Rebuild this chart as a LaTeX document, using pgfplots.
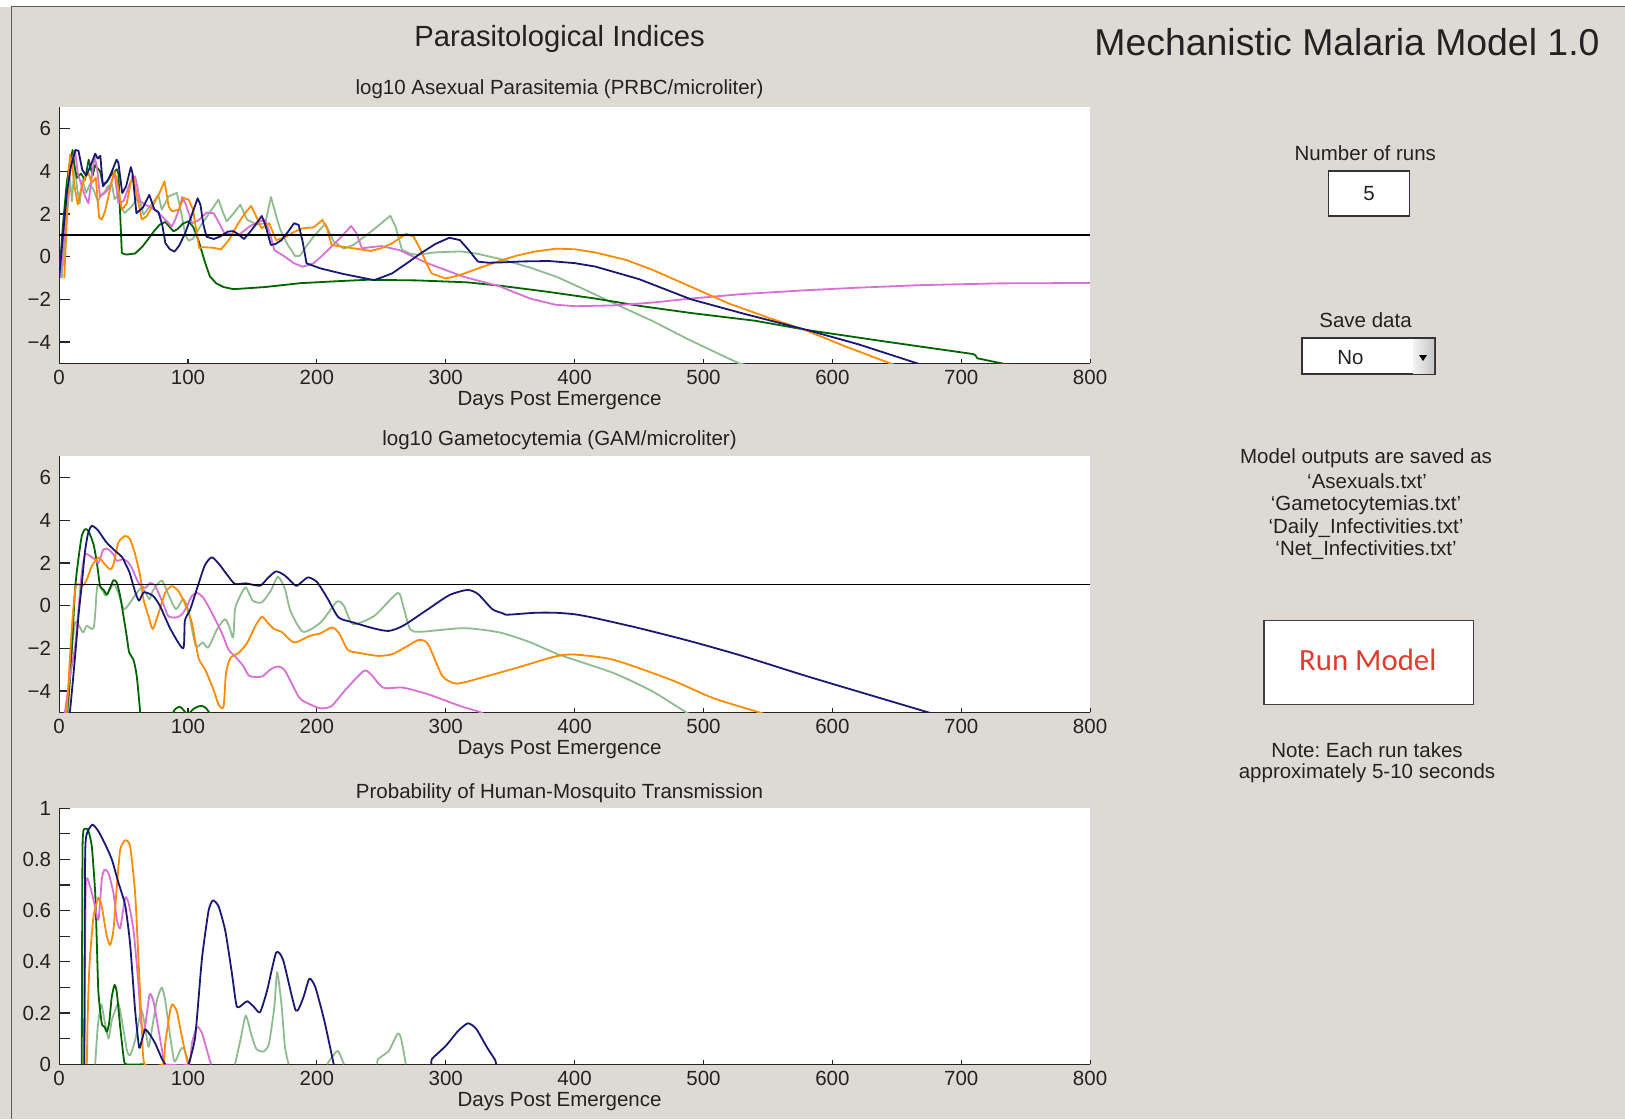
\documentclass[border=0pt]{standalone}
\usepackage{pgfplots}
\pgfplotsset{compat=1.18}
\usepackage{fontspec}
\setmainfont{Liberation Sans}
\newfontfamily\calibri{Carlito}
\definecolor{bg}{RGB}{221,218,213}
\definecolor{navyc}{RGB}{25,25,115}
\definecolor{orangec}{RGB}{255,140,0}
\definecolor{dgreen}{RGB}{0,100,0}
\definecolor{lgreen}{RGB}{143,188,143}
\definecolor{violetc}{RGB}{218,112,214}
\definecolor{txt}{RGB}{34,34,34}
\definecolor{runred}{RGB}{224,60,45}
\newcommand\tenfont{\fontsize{10.25}{12.3}\selectfont}
\frenchspacing
\pgfplotsset{
 mm/.style={
  scale only axis, width=515.5pt, height=128pt,
  xmin=0, xmax=800,
  axis x line*=bottom, axis y line*=left,
  axis line style={black!85, line width=0.6pt},
  axis background/.style={fill=white},
  tick align=inside,
  major tick length=5.25pt,
  minor tick length=5.25pt,
  tick style={black!85, line width=0.6pt},
  xtick={0,100,...,800},
  xticklabels={0,100,200,300,400,500,600,700,800},
  xtick style={/pgfplots/major tick length=2pt},
  tick label style={font=\tenfont, text=txt},
  xticklabel style={anchor=base, yshift=-10.65pt},
  yticklabel style={anchor=east, inner sep=0pt, xshift=-3.8pt},
  label style={font=\tenfont, text=txt},
  xlabel={Days Post Emergence},
  xlabel style={at={(axis description cs:0.4854,0)}, anchor=base, yshift=-21.2pt},
  title style={at={(axis description cs:0.4854,1)}, anchor=base, font=\tenfont, text=txt},
  unbounded coords=jump,
  every axis plot/.append style={line width=0.9pt, line join=round},
  /pgf/number format/assume math mode=true,
 }
}
\begin{document}
\begin{tikzpicture}
\fill[bg] (0,0) rectangle (812.5pt,-559.5pt);
\fill[white] (0,0) rectangle (812.5pt,-3.25pt);
\draw[black!65, line width=0.6pt] (5.75pt,-559.5pt) -- (5.75pt,-3.25pt) -- (812.5pt,-3.25pt);

% ---------------- Axis 1 ----------------
\begin{axis}[mm, at={(29.55pt,-181.7pt)}, anchor=south west,
  ymin=-5, ymax=7, ytick={-4,-2,0,2,4,6}, yticklabels={−4,−2,0,2,4,6},
  title={log10 Asexual Parasitemia (PRBC/microliter)}, title style={yshift=0.4pt}]
\addplot[lgreen] coordinates {(2,-1.0) (5,1.0) (7,2.5) (8.5,3.6) (10,2.6) (12,4.3) (14,3.2) (16,2.5) (18,3.6) (21,3.0) (24,3.4) (27,3.1) (30,2.6) (33,2.9) (35.7,3.07) (38,3.3) (41,3.4) (43,2.7) (46,2.9) (48,2.3) (51,2.05) (56.4,2.36) (61.6,2.83) (65.5,1.97) (69.4,2.28) (74.6,2.68) (77,2.9) (79.7,2.2) (85,2.83) (91.4,2.99) (95.3,1.9) (98,1.0) (100.5,0.75) (104,0.85) (109.5,1.42) (116,2.0) (123.7,2.68) (127,2.1) (130,1.66) (135,2.0) (140.6,2.44) (145.8,1.74) (153.5,1.5) (160,1.58) (164.4,2.8) (168,2.0) (171.6,1.27) (177,0.6) (183.3,0.02) (187,0.05) (192,0.5) (197.5,0.95) (206.6,1.55) (213,0.72) (220.8,0.38) (228.6,0.56) (236,0.9) (244,1.27) (257,1.92) (261,1.42) (266,0.33) (272,0.15) (278,0.09) (291,0.2) (311.6,0.25) (324.5,0.14) (342.5,-0.11) (365,-0.5) (386,-0.94) (410,-1.6) (431,-2.2) (460,-3.0) (487.5,-3.85) (510,-4.5) (527.7,-5.0) (535,-5.1)};
\addplot[dgreen] coordinates {(0,-1.0) (3,1.5) (6,3.5) (8,4.3) (10.5,5.0) (12,4.2) (14,3.7) (17,3.9) (20,3.6) (23,4.55) (26,3.8) (28,4.3) (31.8,4.0) (34,3.4) (37,3.5) (40,3.8) (44.8,4.1) (46,3.9) (48.7,0.17) (52,0.1) (59,0.15) (65,0.5) (70,0.9) (74.6,1.27) (78,1.5) (82.3,1.63) (85,1.45) (88.8,1.19) (92,1.3) (96,1.55) (100.5,1.66) (104,1.4) (108,0.8) (113.4,-0.3) (117,-0.92) (122,-1.25) (127.6,-1.42) (135.3,-1.52) (160,-1.42) (187,-1.24) (215,-1.15) (239,-1.08) (278,-1.11) (316.6,-1.2) (342.4,-1.36) (380,-1.65) (416,-1.96) (450,-2.3) (490.5,-2.64) (540,-3.0) (579.8,-3.43) (639.3,-3.96) (709,-4.56) (711,-4.62) (712.5,-4.76) (731.5,-5.0) (740,-5.1)};
\addplot[violetc] coordinates {(1,-1.0) (4,1.0) (7,3.0) (9,4.3) (12.4,5.0) (14.5,3.9) (17.6,3.3) (20.2,2.83) (22.8,2.5) (25.4,3.77) (27.4,4.7) (29.3,4.24) (31.8,2.83) (35.7,3.0) (39.6,3.3) (43,3.93) (46,2.52) (50,2.6) (55.1,3.46) (59,3.77) (62.9,2.6) (66.8,2.44) (74.6,2.2) (82.3,1.74) (87.5,1.42) (90.1,1.74) (94,2.36) (95.5,2.8) (98,2.5) (103.3,1.57) (108,1.7) (114.4,2.07) (120,2.04) (124,1.6) (128.3,1.1) (139,1.0) (147.6,1.41) (155,1.65) (160,1.72) (164,1.0) (167,0.31) (175.3,0.0) (182,-0.3) (189,-0.47) (197.5,-0.31) (205,0.1) (214,0.63) (220,1.0) (226.6,1.44) (230.7,1.1) (235,0.39) (242,0.45) (250,0.5) (264,0.31) (286,-0.31) (313.9,-0.94) (341.5,-1.38) (365.5,-1.96) (385,-2.25) (401,-2.32) (431,-2.28) (460,-2.15) (490.5,-1.96) (530,-1.75) (579.8,-1.57) (620,-1.45) (669,-1.33) (728.6,-1.25) (800,-1.23)};
\addplot[orangec] coordinates {(4,-1.0) (5.5,1.0) (7,3.5) (8.5,4.8) (10,4.3) (12,3.3) (14.5,2.44) (17,3.15) (20,3.7) (22.8,3.93) (25.4,3.46) (28.5,3.7) (31,1.86) (33,1.74) (35.5,2.1) (38.3,2.83) (41,3.6) (43,4.0) (44.8,3.6) (48.7,2.2) (52.5,2.5) (55,3.3) (57,3.85) (59,3.3) (64.2,1.74) (68,1.9) (74.6,2.6) (78,3.0) (81.8,3.54) (85,2.36) (87.5,2.13) (92.7,2.2) (96.6,2.75) (100.5,2.68) (104,2.2) (106.5,1.2) (108.7,0.4) (112,0.45) (120,0.42) (125.5,0.34) (132,0.8) (139,1.57) (145,2.1) (149,2.38) (153,1.88) (157,1.33) (160,1.45) (163,1.57) (168.4,0.78) (175,0.9) (182,1.15) (189,1.33) (197.5,1.38) (204.4,1.72) (208,1.3) (211.4,0.55) (219.7,0.47) (230,0.38) (241.8,0.27) (250,0.4) (258.4,0.63) (265,0.9) (269.5,1.08) (275,0.95) (280.6,0.31) (285,-0.3) (289,-0.78) (300,-1.02) (311,-0.86) (325,-0.55) (341.5,-0.2) (355,0.05) (369,0.24) (386,0.38) (400,0.35) (416,0.2) (440,-0.15) (460.7,-0.62) (490,-1.4) (520,-2.2) (550,-2.85) (579.8,-3.46) (610,-4.2) (645,-5.0) (650,-5.1)};
\addplot[navyc] coordinates {(0,-1.0) (3,1.0) (6,3.0) (9,4.2) (12.7,5.0) (15,4.97) (18,4.07) (21,3.8) (24,4.2) (28,4.83) (30,4.6) (32,4.73) (34,3.3) (38,3.6) (41,4.0) (44.6,4.55) (46,4.4) (49,2.98) (52,3.3) (55.7,4.2) (57,3.9) (60,2.04) (65,2.3) (70,2.9) (74,2.2) (77,2.1) (80,1.5) (82.5,0.63) (86,0.35) (89.5,0.24) (93,0.5) (97.8,1.1) (102,1.8) (107.5,2.74) (109.7,2.43) (112,1.5) (114.4,0.94) (120,0.83) (125,0.95) (131,1.18) (135,1.2) (138,1.1) (143.5,0.83) (150,1.3) (157.3,1.91) (160,1.5) (164.3,0.55) (168,0.6) (172.6,0.78) (178,1.2) (182.3,1.57) (185.9,1.49) (189,0.7) (192,-0.31) (203,-0.55) (220,-0.8) (244.6,-1.1) (258.4,-0.78) (270,-0.3) (280.6,0.16) (292,0.6) (302.8,0.89) (311,0.78) (318,0.3) (325,-0.23) (333,-0.28) (341.5,-0.27) (360,-0.22) (380,-0.2) (400,-0.3) (416,-0.46) (450,-1.05) (490.5,-2.0) (530,-2.65) (580,-3.43) (620,-4.1) (666,-5.0) (670,-5.1)};
\addplot[black, line width=0.9pt] coordinates {(0,1) (800,1)};
\end{axis}

% ---------------- Axis 2 ----------------
\begin{axis}[mm, at={(29.55pt,-356.2pt)}, anchor=south west,
  ymin=-5, ymax=7, ytick={-4,-2,0,2,4,6}, yticklabels={−4,−2,0,2,4,6},
  title={log10 Gametocytemia (GAM/microliter)}, title style={yshift=-0.75pt},
  every axis plot/.append style={smooth, tension=0.4}]
\addplot[lgreen] coordinates {(6,-5.1) (7,-4.9) (9,-2.5) (12.4,-0.81) (15,-0.89) (18.6,-1.25) (21.4,-0.94) (26.9,-1.02) (29.7,0.94) (33.8,0.7) (36.6,0.47) (42.2,1.02) (46,0.6) (50.5,-0.16) (58.8,0.47) (64.4,0.86) (69.9,0.31) (72.7,0.7) (79.6,1.18) (85.2,0.47) (90.7,-0.16) (96.3,0.31) (100.4,-0.24) (106,-1.88) (111.5,-1.72) (115.7,-1.96) (122.6,-1.1) (128.7,-0.63) (132.3,-1.02) (135.1,-1.49) (136.5,-0.16) (140,0.4) (144.8,0.86) (150.3,0.24) (157.3,0.16) (164.2,0.7) (169.8,1.36) (175.3,0.78) (179.5,-0.24) (189.2,-1.22) (203,-0.78) (215.5,0.19) (221,0.0) (228,-0.86) (244.7,-0.47) (262.7,0.6) (266.9,0.0) (272.4,-1.1) (280.7,-1.22) (314,-1.05) (341.7,-1.25) (365,-1.7) (388.3,-2.3) (430,-3.15) (460,-4.0) (486.7,-5.0) (490,-5.1)};
\addplot[dgreen] coordinates {(6,-5.1) (9,-3.0) (12.4,0.76) (15,2.2) (17.6,3.27) (20.2,3.59) (22.8,3.5) (26.7,2.88) (29.3,2.02) (31.8,0.92) (34.4,0.76) (37,0.53) (39.6,0.84) (42.2,1.2) (44.8,1.08) (47.4,0.45) (50,-0.5) (52.5,-1.44) (54.4,-2.2) (57.7,-2.53) (60.3,-3.32) (62.9,-4.97) (63.5,-5.2) (63.6,nan) (88,-5.05) (90,-4.85) (93.5,-4.73) (96,-4.85) (98.5,-5.05) (99,nan) (101,-5.05) (104,-4.85) (108,-4.72) (111,-4.7) (114,-4.8) (117,-5.05)};
\addplot[violetc] coordinates {(4,-5.1) (4.7,-4.9) (8,-3.5) (12.4,-1.9) (15,-0.2) (17.6,1.55) (20.2,2.4) (24,2.33) (28,2.17) (30.5,2.0) (34.4,2.64) (38.3,2.64) (42.2,2.4) (44.8,2.1) (48.7,2.17) (52.6,2.1) (56.4,1.78) (61.6,1.07) (66.8,0.84) (70.7,1.07) (74.6,0.92) (81,0.06) (84.9,-0.5) (91.4,-0.54) (95.3,-0.41) (99.2,-0.02) (103,0.45) (107,0.6) (112,0.37) (118.6,-0.34) (126.3,-1.28) (131.5,-2.06) (136.7,-2.38) (143.2,-2.85) (147.6,-3.29) (157.3,-3.32) (164.2,-2.98) (169.8,-2.85) (175.3,-3.05) (186.4,-4.31) (194.7,-4.62) (203,-4.81) (211.4,-4.7) (222.5,-3.92) (236.3,-3.06) (241.9,-3.21) (251.6,-3.84) (266.9,-3.84) (286.3,-4.15) (311.2,-4.7) (326.5,-4.98) (330,-5.1)};
\addplot[orangec] coordinates {(5,-5.1) (6,-4.9) (9.8,-1.1) (13,0.92) (17.6,0.92) (19.5,1.0) (22,1.3) (25.4,1.86) (30.5,2.25) (34.4,2.02) (39.6,1.7) (42.2,1.94) (46,2.96) (51.3,3.27) (55,3.12) (59,2.41) (62.9,1.39) (65.5,0.29) (69.4,-0.5) (72.7,-1.09) (77.2,-0.34) (82.3,0.6) (87.5,0.92) (92.7,0.68) (97.9,0.06) (103,-0.8) (108.2,-2.45) (113.4,-3.0) (119.9,-3.95) (123.8,-4.65) (127.6,-4.73) (129.5,-3.16) (132.9,-2.45) (139.3,-2.21) (145.8,-1.75) (152.2,-0.96) (157.3,-0.52) (162,-0.8) (167,-1.1) (172.5,-1.22) (182.3,-1.72) (194.7,-1.41) (203,-1.29) (211.4,-1.02) (216.9,-1.25) (223.9,-2.07) (230.8,-2.19) (247.4,-2.35) (258.5,-2.27) (270,-1.9) (279.3,-1.6) (286.3,-1.8) (297.4,-3.29) (308.5,-3.65) (327.9,-3.37) (355.6,-2.9) (385.4,-2.37) (400.3,-2.29) (430,-2.53) (474.8,-3.47) (507.6,-4.33) (543.4,-5.0) (548,-5.1)};
\addplot[navyc] coordinates {(7,-5.1) (8.5,-4.9) (12.4,-2.38) (15,-0.5) (17.6,1.0) (20,2.5) (22.5,3.4) (25.4,3.74) (30,3.55) (36.6,2.98) (43,2.6) (49,2.27) (52,1.9) (54.6,1.57) (58.8,0.7) (62,0.24) (65.7,0.63) (72.7,0.47) (78.2,0.0) (86.5,-1.1) (96.3,-2.0) (97.6,-0.7) (101.8,-0.16) (107.3,0.86) (113,1.88) (118.4,2.27) (124,1.96) (130.9,1.41) (136.5,1.02) (144.8,1.05) (155.9,0.94) (162,1.3) (168.4,1.61) (175.3,1.41) (183.6,0.94) (188,1.1) (193.3,1.33) (200.3,1.1) (208.6,0.31) (216.9,-0.55) (228,-0.78) (244.7,-1.07) (255.8,-1.18) (266.9,-0.94) (286.3,-0.16) (302.9,0.5) (316.8,0.74) (325,0.55) (336.2,-0.16) (344.5,-0.36) (348,-0.42) (369.5,-0.33) (385.4,-0.33) (400,-0.4) (415.2,-0.57) (450,-1.05) (489.7,-1.66) (530,-2.35) (579,-3.28) (630,-4.2) (674.5,-5.0) (680,-5.1)};
\addplot[black, line width=0.9pt, sharp plot] coordinates {(0,1) (800,1)};
\end{axis}

% ---------------- Axis 3 ----------------
\begin{axis}[mm, at={(29.55pt,-532.1pt)}, anchor=south west,
  ymin=0, ymax=1, ytick={0,0.2,0.4,0.6,0.8,1},
  yticklabels={0,0.2,0.4,0.6,0.8,1},
  minor ytick={0.1,0.3,0.5,0.7,0.9},
  title={Probability of Human-Mosquito Transmission}, title style={yshift=-1.2pt},
  every axis plot/.append style={smooth, tension=0.35}]
\addplot[lgreen] coordinates {(28,0) (30,0.146) (32.6,0.234) (35.2,0.172) (38.3,0.1) (40.9,0.172) (43.5,0.21) (46,0.237) (48.7,0.172) (52.6,0.055) (55.1,0.035) (59,0.094) (63.7,0.21) (66.3,0.159) (69.4,0.068) (71.9,0.133) (75.9,0.25) (79.7,0.30) (82.3,0.25) (86.2,0.107) (89.6,0.01) (94,0.055) (96.6,0.065) (99.2,0.029) (100.5,0) (101,nan) (136.5,0) (140.6,0.092) (144.8,0.19) (149,0.118) (153.1,0.059) (158.7,0.05) (162.8,0.079) (167,0.223) (169.2,0.36) (172.5,0.236) (175.3,0.066) (178.1,0) (179,nan) (208,0) (211.4,0.026) (216.4,0.052) (221,0) (222,nan) (246.9,0) (247.4,0.02) (255.8,0.052) (262.7,0.12) (265.5,0.098) (269,0)};
\addplot[dgreen] coordinates {(17.6,0) (18.2,0.85) (20.2,0.92) (22.8,0.91) (25.4,0.85) (28,0.67) (29.3,0.47) (30.5,0.28) (33.1,0.16) (35.2,0.146) (37,0.127) (38.8,0.16) (40.8,0.26) (43,0.31) (44.8,0.28) (47.4,0.146) (50,0.03) (51.8,0) (66.8,0)};
\addplot[violetc] coordinates {(19.7,0) (20.7,0.697) (24.1,0.692) (26.7,0.642) (30.5,0.564) (33.1,0.72) (35.2,0.76) (38.3,0.747) (42.2,0.668) (44.8,0.564) (47.4,0.531) (51.3,0.65) (53.9,0.63) (57.7,0.525) (61.1,0.342) (63.7,0.159) (66.3,0.133) (70.2,0.273) (73.3,0.244) (77.2,0.133) (81,0.022) (82.3,0) (100.5,0) (103,0.081) (107,0.146) (110.8,0.122) (114.7,0.055) (117.3,0.009) (118,0)};
\addplot[orangec] coordinates {(21.5,0) (22.3,0.21) (23.6,0.39) (26.7,0.577) (30.5,0.65) (33.1,0.616) (37,0.5) (39.6,0.466) (42.2,0.525) (44.8,0.695) (47.4,0.838) (51.3,0.875) (55.1,0.851) (59,0.668) (61.6,0.407) (64.2,0.146) (66.3,0) (80.5,0) (82.3,0.081) (86.2,0.21) (88,0.234) (91.4,0.205) (95.3,0.107) (99.2,0.016) (100.5,0)};
\addplot[navyc] coordinates {(19.5,0) (20.2,0.8) (21.5,0.9) (25.9,0.936) (30.5,0.91) (35.7,0.86) (40.9,0.8) (46,0.71) (51.3,0.62) (55.1,0.47) (59,0.21) (62.1,0.065) (64.2,0.094) (66.8,0.136) (70.7,0.114) (74.6,0.081) (79.7,0.022) (82.3,0) (83,nan) (100.5,0) (105.6,0.107) (110.8,0.41) (116,0.6) (119.4,0.64) (123.8,0.616) (129,0.52) (134.1,0.355) (137.9,0.225) (143.2,0.237) (146.2,0.246) (151,0.225) (155.9,0.203) (161.4,0.288) (168.4,0.436) (173.9,0.406) (183.6,0.21) (189.2,0.256) (194.2,0.334) (198.9,0.30) (205.8,0.17) (212.8,0.007) (213.3,0) (214,nan) (289,0) (289.2,0.02) (300.1,0.072) (309.8,0.131) (317.3,0.16) (323.7,0.138) (332,0.066) (338.4,0.016) (339,0)};
\end{axis}
\fill[bg] (12pt,-439.5pt) rectangle (27pt,-445.5pt);

% ---------------- Right panel ----------------
\begin{scope}[x=0.5pt, y=-0.5pt]
\node[anchor=base, inner sep=0pt, text=txt, font=\fontsize{18.7}{22}\selectfont] at (1347,55.9) {Mechanistic Malaria Model 1.0};
\node[anchor=base, inner sep=0pt, text=txt, font=\fontsize{14.6}{17}\selectfont] at (559.6,46.8) {Parasitological Indices};
\node[anchor=base, inner sep=0pt, text=txt, font=\tenfont] at (1365.3,160.7) {Number of runs};
\draw[fill=white, draw=black!80, line width=0.6pt] (1328.5,171) rectangle (1409.5,216);
\node[anchor=base, inner sep=0pt, text=txt, font=\tenfont] at (1369,200.8) {5};
\node[anchor=base, inner sep=0pt, text=txt, font=\tenfont] at (1365.5,327.7) {Save data};
\draw[fill=white, draw=black!80, line width=0.6pt] (1302,338) rectangle (1435,374);
\shade[left color=white!95!black, right color=black!22] (1413,339) rectangle (1434,373);
\fill[black] (1419,355) -- (1427,355) -- (1423,361) -- cycle;
\node[anchor=base, inner sep=0pt, text=txt, font=\tenfont] at (1350.4,364.8) {No};
\node[anchor=base, inner sep=0pt, text=txt, font=\tenfont] at (1366,463.5) {Model outputs are saved as};
\node[anchor=base, inner sep=0pt, text=txt, font=\tenfont] at (1367,488.5) {‘Asexuals.txt’};
\node[anchor=base, inner sep=0pt, text=txt, font=\tenfont] at (1366,510.8) {‘Gametocytemias.txt’};
\node[anchor=base, inner sep=0pt, text=txt, font=\tenfont] at (1366,533.2) {‘Daily\_Infectivities.txt’};
\node[anchor=base, inner sep=0pt, text=txt, font=\tenfont] at (1366,555.5) {‘Net\_Infectivities.txt’};
\draw[fill=white, draw=black!75, line width=0.6pt] (1264,620.5) rectangle (1473.3,704.7);
\node[anchor=base, inner sep=0pt, text=runred, font=\calibri\fontsize{15.4}{18}\selectfont] at (1367.8,670.4) {Run Model};
\node[anchor=base, inner sep=0pt, text=txt, font=\tenfont] at (1367,757.8) {Note: Each run takes};
\node[anchor=base, inner sep=0pt, text=txt, font=\tenfont] at (1367,778.9) {approximately 5-10 seconds};
\end{scope}
\pgfresetboundingbox
\useasboundingbox (0,0) rectangle (812.5pt,-559.5pt);
\end{tikzpicture}
\end{document}
